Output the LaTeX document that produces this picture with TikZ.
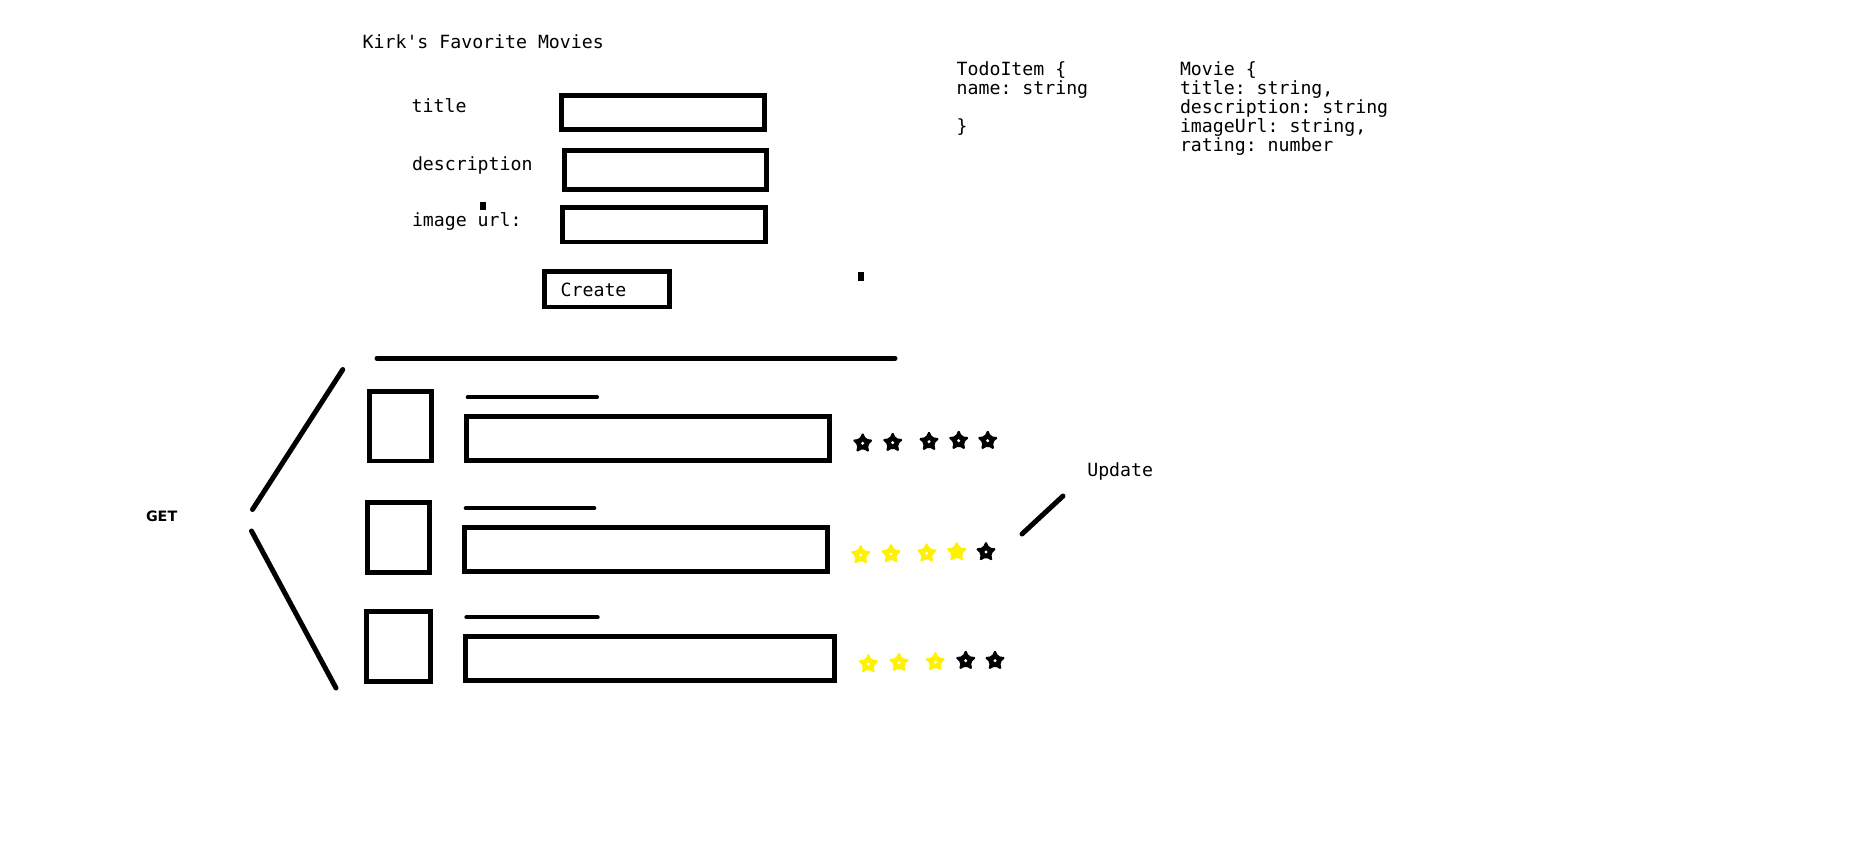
\documentclass[tikz,border=0pt]{standalone}
\usepackage{fontspec}
\setmonofont{DejaVu Sans Mono}
\setsansfont{DejaVu Sans}
\usetikzlibrary{shapes.geometric}
\definecolor{pyellow}{RGB}{255,242,0}
\begin{document}
\begin{tikzpicture}[x=1pt,y=-1pt,
  box/.style={draw, line width=4.8pt, inner sep=0pt, outer sep=0pt},
  lbl/.style={anchor=base west, inner sep=0pt, outer sep=0pt, font=\ttfamily\fontsize{18.2}{19}\selectfont},
  sans/.style={anchor=base west, inner sep=0pt, outer sep=0pt, font=\sffamily\bfseries\fontsize{14.3}{18}\selectfont},
  stroke/.style={line width=5pt, line cap=round},
  thinstroke/.style={line width=4pt, line cap=round},
  starshape/.style={star, star points=5, star point ratio=2.05, minimum size=22.5pt, inner sep=0pt, rounded corners=1.8pt}
]
\useasboundingbox[fill=white] (0,0) rectangle (1854,852);

% heading and form
\node[lbl] (heading) at (362.7,48) {Kirk's Favorite Movies};
\node[lbl] (ltitle) at (411.7,112.7) {title};
\node[lbl] (ldesc) at (412,170) {description};
\node[lbl] (lurl) at (412,226.7) {image url:};
\node[box, minimum width=202.8pt, minimum height=33.6pt] (ftitle) at (662.9,112.5) {};
\node[box, minimum width=202pt, minimum height=38.8pt] (fdesc) at (665.3,170) {};
\node[box, minimum width=203pt, minimum height=34.7pt] (furl) at (663.8,224.65) {};
\node[box, minimum width=125pt, minimum height=35.7pt] (create) at (606.8,289.15) {};
\node[lbl] (createlbl) at (560.7,296.7) {Create};
\fill (480,202) rectangle (486,210);
\fill (858,272) rectangle (864,281);

% models
\node[lbl] (todo1) at (956.7,75) {TodoItem \{};
\node[lbl] (todo2) at (956.7,94) {name: string};
\node[lbl] (todo3) at (956.7,132) {\}};
\node[lbl] (mov1) at (1180,75) {Movie \{};
\node[lbl] (mov2) at (1180,94) {title: string,};
\node[lbl] (mov3) at (1180,113) {description: string};
\node[lbl] (mov4) at (1180,132) {imageUrl: string,};
\node[lbl] (mov5) at (1180,151) {rating: number};

% list
\coordinate (topL) at (377,358.3);
\coordinate (topR) at (895,358.3);
\draw[stroke] (topL) -- (topR);

\node[box, minimum width=61.6pt, minimum height=69.3pt] (img1) at (400.5,426.35) {};
\node[box, minimum width=61.6pt, minimum height=69.6pt] (img2) at (398.5,537.5) {};
\node[box, minimum width=64pt, minimum height=70pt] (img3) at (398.3,646.3) {};
\node[box, minimum width=362.6pt, minimum height=43.6pt] (txt1) at (648,438.5) {};
\node[box, minimum width=362.6pt, minimum height=43.6pt] (txt2) at (646,549.5) {};
\node[box, minimum width=369pt, minimum height=44pt] (txt3) at (649.8,658.3) {};

\coordinate (h1a) at (467.7,397.3); \coordinate (h1b) at (597,397.3);
\coordinate (h2a) at (465.7,508.3); \coordinate (h2b) at (594.3,508.3);
\coordinate (h3a) at (466.3,617.3); \coordinate (h3b) at (597.7,617.3);
\draw[thinstroke] (h1a) -- (h1b);
\draw[thinstroke] (h2a) -- (h2b);
\draw[thinstroke] (h3a) -- (h3b);

% stars
\foreach \n/\x/\y/\c/\h in {
  a1/862.7/443.3/black/1, a2/892.7/442.7/black/1, a3/929/441.7/black/1, a4/958.7/440.7/black/1, a5/987.7/440.7/black/1,
  b1/860.7/555/pyellow/1, b2/891/554/pyellow/1, b3/926.7/553.3/pyellow/1, b4/956.7/552/pyellow/0, b5/986/552/black/1,
  c1/868.3/664/pyellow/1, c2/899/662.7/pyellow/1, c3/935.3/662/pyellow/1, c4/965.7/660.7/black/1, c5/995/660.7/black/1}{
  \node[starshape, fill=\c] (star\n) at (\x,\y) {};
  \ifnum\h=1 \fill[white] (star\n.center) circle (1.7pt); \fi
}

% GET
\node[sans] (get) at (146,521.7) {GET};
\coordinate (g1a) at (252.5,509.5); \coordinate (g1b) at (342.8,369.5);
\coordinate (g2a) at (251.5,531); \coordinate (g2b) at (336,688);
\draw[stroke] (g1a) -- (g1b);
\draw[stroke] (g2a) -- (g2b);

% Update
\node[lbl] (update) at (1087.3,476) {Update};
\coordinate (u1) at (1022,534); \coordinate (u2) at (1063,496);
\draw[stroke] (u1) -- (u2);
\end{tikzpicture}
\end{document}
